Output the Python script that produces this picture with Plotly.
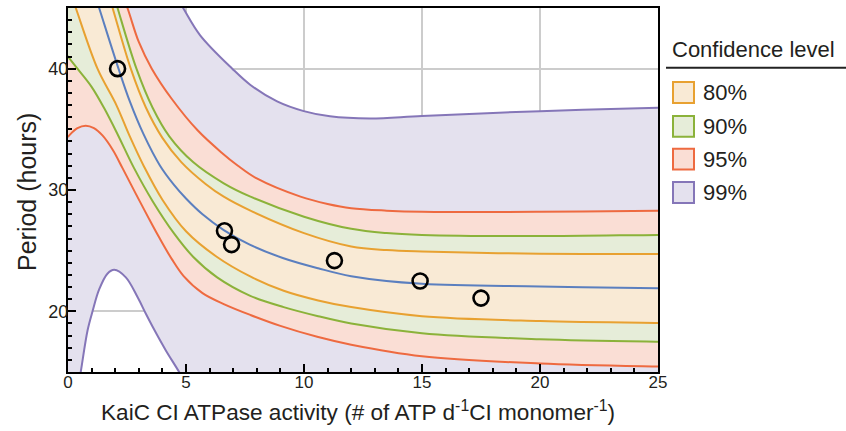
import plotly.graph_objects as go

# ---------------- data ----------------
X_RANGE = [0, 25]
Y_RANGE = [15, 45]
X_TICKS = [0, 5, 10, 15, 20, 25]
Y_TICKS = [20, 30, 40]

# best-fit curve (blue)
blue_x = [0.83, 1.32, 2.14, 2.62, 3.2, 3.9, 4.5, 5.0, 5.7, 6.6, 7.7, 9.1, 10.6, 12.0, 15.0, 20.0, 25.0, 26.0]
blue_y = [48, 45, 40, 37.3, 34.6, 32.0, 30.4, 29.3, 28.0, 26.7, 25.5, 24.4, 23.55, 22.9, 22.27, 22.05, 21.9, 21.88]

# 80 % band
orange_up_x = [1.43, 1.89, 2.66, 3.3, 4.0, 4.8, 5.83, 6.6, 7.73, 10.0, 12.0, 13.5, 15, 20, 25, 26]
orange_up_y = [48, 45, 40, 36.8, 34.3, 32.3, 30.5, 29.45, 28.3, 26.45, 25.35, 25.05, 24.93, 24.75, 24.73, 24.73]
orange_lo_x = [-0.2, 0.33, 1.25, 2.05, 2.6, 3.23, 4.0, 5.0, 6.3, 7.7, 9.14, 10.6, 12.0, 15, 20, 25, 26]
orange_lo_y = [48, 45, 40, 37.0, 34.5, 31.9, 29.2, 26.6, 24.5, 22.9, 21.7, 20.9, 20.35, 19.6, 19.2, 19.04, 19.02]

# 90 % band
green_up_x = [1.65, 2.10, 2.90, 3.58, 4.3, 5.3, 6.6, 7.73, 10.0, 12.0, 13.5, 15, 20, 25, 26]
green_up_y = [48, 45, 40, 36.8, 34.4, 32.3, 30.55, 29.45, 27.8, 26.8, 26.45, 26.3, 26.2, 26.3, 26.3]
green_lo_x = [-0.4, 0.0, 0.40, 1.0, 1.53, 2.10, 2.80, 3.58, 4.5, 5.3, 6.32, 7.7, 9.14, 10.6, 12.0, 15, 20, 25, 26]
green_lo_y = [42.0, 41.0, 40.0, 38.5, 36.75, 34.6, 31.8, 29.1, 26.4, 24.5, 22.8, 21.3, 20.35, 19.6, 19.0, 18.2, 17.7, 17.5, 17.48]

# 95 % band
red_up_x = [1.95, 2.52, 3.0, 3.55, 4.4, 5.5, 6.5, 7.2, 8.0, 9.85, 11.0, 12.0, 13.5, 15, 20, 25, 26]
red_up_y = [48, 45, 42.2, 40.0, 37.5, 34.9, 33.1, 32.0, 30.95, 29.45, 28.85, 28.5, 28.3, 28.2, 28.2, 28.3, 28.3]
red_lo_x = [-0.4, 0.0, 0.4, 0.75, 1.1, 1.46, 1.9, 2.31, 2.87, 3.44, 3.86, 4.4, 4.9, 5.7, 6.6, 7.73, 9.0, 10.56, 12.0, 15, 20, 25, 26]
red_lo_y = [33.5, 34.4, 35.1, 35.3, 35.1, 34.5, 33.3, 31.8, 29.7, 27.6, 26.1, 24.3, 22.9, 21.5, 20.6, 19.7, 18.8, 17.9, 17.25, 16.3, 15.7, 15.45, 15.42]

# 99 % band
purple_up_x = [4.0, 4.88, 5.6, 6.96, 7.73, 8.86, 9.99, 11.1, 12.8, 15, 20, 25, 26]
purple_up_y = [48, 45, 42.75, 40.0, 38.66, 37.3, 36.5, 36.07, 35.9, 36.1, 36.5, 36.78, 36.83]
purple_lo_x = [-0.4, 0.29, 0.54, 0.83, 1.04, 1.32, 1.67, 1.96, 2.45, 2.94, 3.3, 3.65, 4.14, 4.71, 5.3, 26]
purple_lo_y = [12, 12, 15, 18.44, 20, 21.8, 23.1, 23.42, 22.8, 21.2, 19.8, 18.5, 16.8, 15.0, 13.0, 12.0]

# measured periods
obs_x = [2.1, 6.63, 6.93, 11.29, 14.92, 17.5]
obs_y = [40.0, 26.64, 25.5, 24.18, 22.5, 21.09]

levels = ["80%", "90%", "95%", "99%"]

# ---------------- styles ----------------
C_BLUE = "#5B7FBF"
LINE = {"80%": "#E8A131", "90%": "#8BB23A", "95%": "#EE6A40", "99%": "#8576B8"}
FILL = {"80%": "#F9EAD5", "90%": "#E6EDD9", "95%": "#FADED5", "99%": "#E4E1EE"}
TXT = "#231F20"
FONT = "Liberation Sans, Arial, Helvetica, sans-serif"

ML, MR, MT, MB = 68, 188, 6, 59
W, H = 846, 431
PW, PH = W - ML - MR, H - MT - MB


def pxx(px):
    return (px - ML) / PW


def pxy(py):
    return (H - MB - py) / PH


fig = go.Figure()

bands = [
    ("99%", purple_lo_x, purple_lo_y, purple_up_x, purple_up_y),
    ("95%", red_lo_x, red_lo_y, red_up_x, red_up_y),
    ("90%", green_lo_x, green_lo_y, green_up_x, green_up_y),
    ("80%", orange_lo_x, orange_lo_y, orange_up_x, orange_up_y),
]

# fills, outermost first
for lev, lx, ly, ux, uy in bands:
    ux2 = [X_RANGE[0] - 0.4] + list(ux)
    uy2 = [uy[0]] + list(uy)
    fig.add_trace(go.Scatter(x=lx, y=ly, mode="lines",
                             line=dict(width=0, shape="spline"),
                             hoverinfo="skip", showlegend=False))
    fig.add_trace(go.Scatter(x=ux2, y=uy2, mode="lines",
                             line=dict(width=0, shape="spline"),
                             fill="tonexty", fillcolor=FILL[lev],
                             hoverinfo="skip", showlegend=False))

# boundary lines
for lev, lx, ly, ux, uy in bands:
    for xs, ys in ((ux, uy), (lx, ly)):
        fig.add_trace(go.Scatter(x=xs, y=ys, mode="lines",
                                 line=dict(width=2, color=LINE[lev], shape="spline"),
                                 hoverinfo="skip", showlegend=False))

fig.add_trace(go.Scatter(x=blue_x, y=blue_y, mode="lines",
                         line=dict(width=2, color=C_BLUE, shape="spline"),
                         hoverinfo="skip", showlegend=False))

fig.add_trace(go.Scatter(x=obs_x, y=obs_y, mode="markers",
                         marker=dict(symbol="circle-open", size=15,
                                     line=dict(width=2.6, color="black"), color="black"),
                         showlegend=False))

axis_common = dict(showline=True, linecolor="black", linewidth=2, mirror=True,
                   ticks="inside", tickcolor="black", tickwidth=2, ticklen=8,
                   showgrid=True, gridcolor="#CCCCCC", gridwidth=2,
                   zeroline=False)

fig.update_xaxes(range=X_RANGE, tickvals=X_TICKS, ticklabelstandoff=-6,
                 tickfont=dict(family=FONT, size=17, color=TXT),
                 minor=dict(dtick=1, tick0=0, ticks="inside", ticklen=4,
                            tickwidth=1.5, tickcolor="black", showgrid=False),
                 **axis_common)
fig.update_yaxes(range=Y_RANGE, tickvals=Y_TICKS, ticklabelstandoff=-6,
                 tickfont=dict(family=FONT, size=18, color=TXT),
                 minor=dict(dtick=1, tick0=0, ticks="inside", ticklen=4,
                            tickwidth=1.5, tickcolor="black", showgrid=False),
                 **axis_common)

annotations = [
    dict(x=pxx(358), y=pxy(411), xref="paper", yref="paper", showarrow=False,
         xanchor="center", yanchor="middle",
         text="KaiC CI ATPase activity (# of ATP d<sup>-1</sup>CI monomer<sup>-1</sup>)",
         font=dict(family=FONT, size=22.6, color=TXT)),
    dict(x=pxx(27), y=pxy(191), xref="paper", yref="paper", showarrow=False,
         xanchor="center", yanchor="middle", textangle=-90,
         text="Period (hours)", font=dict(family=FONT, size=25, color=TXT)),
    dict(x=pxx(670), y=pxy(48), xref="paper", yref="paper", showarrow=False,
         xanchor="left", yanchor="middle", text="Confidence level",
         font=dict(family=FONT, size=22, color=TXT)),
]

shapes = [
    dict(type="line", xref="paper", yref="paper", x0=pxx(666), x1=pxx(846),
         y0=pxy(66), y1=pxy(66), line=dict(color="#222222", width=2)),
]

legend_y = [91, 125, 158, 191.5]
for lev, cy in zip(levels, legend_y):
    shapes.append(dict(type="rect", xref="paper", yref="paper",
                       x0=pxx(673), x1=pxx(694), y0=pxy(cy + 10.5), y1=pxy(cy - 10.5),
                       fillcolor=FILL[lev], line=dict(color=LINE[lev], width=2)))
    annotations.append(dict(x=pxx(701), y=pxy(cy), xref="paper", yref="paper",
                            showarrow=False, xanchor="left", yanchor="middle",
                            text=lev, font=dict(family=FONT, size=22, color=TXT)))

fig.update_layout(width=W, height=H, autosize=False,
                  margin=dict(l=ML, r=MR, t=MT, b=MB),
                  paper_bgcolor="white", plot_bgcolor="white",
                  showlegend=False, annotations=annotations, shapes=shapes)

fig.write_html("out.html", config={"displayModeBar": False},
               post_script="document.body.style.margin='0';")
